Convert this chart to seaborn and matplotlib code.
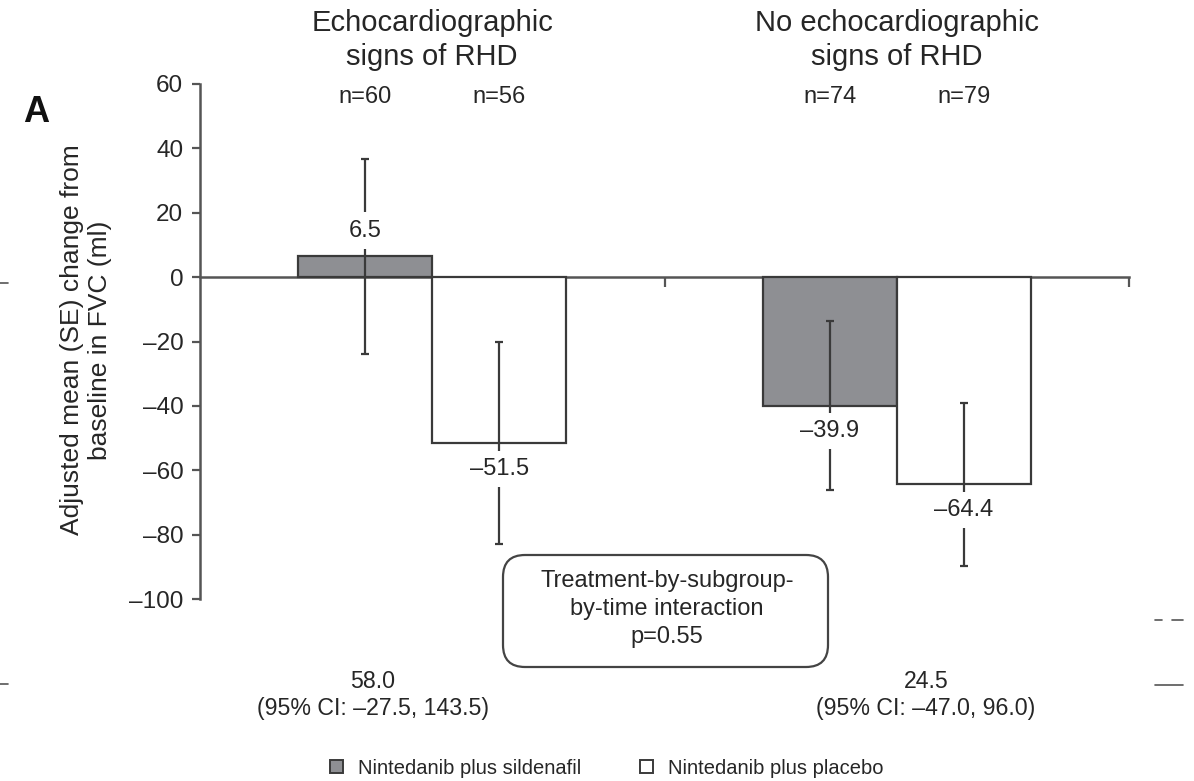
import matplotlib
matplotlib.use("Agg")
import matplotlib.pyplot as plt
import seaborn as sns
import pandas as pd
from matplotlib.patches import Patch, FancyBboxPatch
from matplotlib.lines import Line2D
from matplotlib.transforms import blended_transform_factory, IdentityTransform
from matplotlib.ticker import FuncFormatter

# ---- data -------------------------------------------------------------
subgroups = ["Echocardiographic\nsigns of RHD", "No echocardiographic\nsigns of RHD"]
treatments = ["Nintedanib plus sildenafil", "Nintedanib plus placebo"]
mean_sildenafil = [6.5, -39.9]
mean_placebo = [-51.5, -64.4]
se_sildenafil = [30.3, 26.2]
se_placebo = [31.5, 25.2]
n_sildenafil = [60, 74]
n_placebo = [56, 79]
diff_labels = ["58.0\n(95% CI: \u201327.5, 143.5)", "24.5\n(95% CI: \u201347.0, 96.0)"]
interaction_text = "Treatment-by-subgroup-\nby-time interaction\np=0.55"
yticks = [60, 40, 20, 0, -20, -40, -60, -80, -100]
ylabel = "Adjusted mean (SE) change from\nbaseline in FVC (ml)"
panel_label = "A"

df = pd.DataFrame({
    "subgroup": subgroups * 2,
    "treatment": [treatments[0]] * 2 + [treatments[1]] * 2,
    "change": mean_sildenafil + mean_placebo,
})
means = [mean_sildenafil, mean_placebo]
ses = [se_sildenafil, se_placebo]
ns = [n_sildenafil, n_placebo]

# ---- style ------------------------------------------------------------
sns.set_style("white")
plt.rcParams["font.family"] = ["Liberation Sans", "DejaVu Sans"]
TXT = "#262626"
LINE = "#3a3a3a"
GREY = "#8e8f93"

W, H = 1194, 781
fig = plt.figure(figsize=(W / 100, H / 100), dpi=100)
ax = fig.add_axes([200 / W, 1 - 599 / H, (1129 - 200) / W, (599 - 84) / H])

sns.barplot(data=df, x="subgroup", y="change", hue="treatment",
            order=subgroups, hue_order=treatments,
            palette={treatments[0]: GREY, treatments[1]: "white"},
            saturation=1, width=0.576, errorbar=None,
            edgecolor=LINE, linewidth=1.6, legend=False, ax=ax, zorder=2)


def dash(v):
    return f"{v:.1f}".replace("-", "\u2013")


xfig = blended_transform_factory(ax.transData, fig.transFigure)

bar_containers = list(ax.containers)
for ci, cont in enumerate(bar_containers):
    for gi, bar in enumerate(cont):
        xc = bar.get_x() + bar.get_width() / 2
        m = means[ci][gi]
        ax.errorbar(xc, m, yerr=ses[ci][gi], fmt="none", ecolor=LINE,
                    elinewidth=1.6, capsize=3, capthick=1.6, zorder=3)
        ax.annotate(dash(m), xy=(xc, m), xytext=(0, 18.5 if m > 0 else -18.5),
                    textcoords="offset points", ha="center", va="center",
                    fontsize=17, color=TXT, zorder=5,
                    bbox=dict(boxstyle="square,pad=0.3", fc="white", ec="none"))
        ax.text(xc, 1 - 97 / H, f"n={ns[ci][gi]}", transform=xfig,
                ha="center", va="center", fontsize=17, color=TXT)

for gi, name in enumerate(subgroups):
    ax.text(gi, 1 - 40 / H, name, transform=xfig, ha="center", va="center",
            fontsize=21, color=TXT, linespacing=1.27)

# ---- axes -------------------------------------------------------------
ax.set_xlim(-0.5, 1.5)
ax.set_ylim(-100, 60)
for s in ("top", "right"):
    ax.spines[s].set_visible(False)
ax.spines["bottom"].set_position(("data", 0))
for s in ("left", "bottom"):
    ax.spines[s].set_color("#555555")
    ax.spines[s].set_linewidth(1.8)
ax.spines["bottom"].set_zorder(1)
ax.set_xticks([0.5, 1.5])
ax.set_xticklabels([])
ax.tick_params(axis="x", bottom=True, direction="out", length=7, width=1.6,
               color="#555555")
ax.set_yticks(yticks)
ax.yaxis.set_major_formatter(FuncFormatter(lambda v, p: f"{v:.0f}".replace("-", "\u2013")))
ax.tick_params(axis="y", left=True, direction="out", length=6, width=1.6,
               color="#555555", labelsize=17.5, labelcolor=TXT, pad=6)
ax.set_xlabel("")
ax.set_ylabel("")

fig.text(86 / W, 1 - 340 / H, ylabel, rotation=90, ha="center", va="center",
         fontsize=19, color=TXT, multialignment="center", linespacing=1.18)
fig.text(36 / W, 1 - 112 / H, panel_label, fontsize=26, fontweight="bold",
         ha="center", va="center", color="#111111")

# interaction box
box = FancyBboxPatch((503, H - 667), 325, 112,
                     boxstyle="round,pad=0,rounding_size=22",
                     transform=IdentityTransform(), fc="white", ec="#444444", lw=1.6)
fig.add_artist(box)
fig.text(667 / W, 1 - 609 / H, interaction_text, ha="center", va="center",
         fontsize=17, color=TXT, linespacing=1.38)

# treatment differences below each subgroup
for xpix, txt in zip([373, 926], diff_labels):
    fig.text(xpix / W, 1 - 695 / H, txt, ha="center", va="center",
             fontsize=16.7, color=TXT, linespacing=1.2)

# legend
handles = [Patch(fc=GREY, ec=LINE, lw=1.4), Patch(fc="white", ec=LINE, lw=1.4)]
fig.legend(handles, treatments, loc="center", bbox_to_anchor=(607 / W, 1 - 768 / H),
           ncol=2, frameon=False, fontsize=14.5, handlelength=0.65,
           handleheight=0.65, handletextpad=0.75, columnspacing=2.9,
           labelcolor=TXT)

# edge rules at the panel borders
for xs, y in [((0, 8), 283), ((0, 8), 684), ((1155, 1162), 620),
              ((1172, 1183), 620), ((1155, 1183), 685)]:
    fig.add_artist(Line2D([xs[0] / W, xs[1] / W], [1 - y / H] * 2,
                          transform=fig.transFigure, color="#555555", lw=1.2))

fig.savefig("out.png", dpi=100)
